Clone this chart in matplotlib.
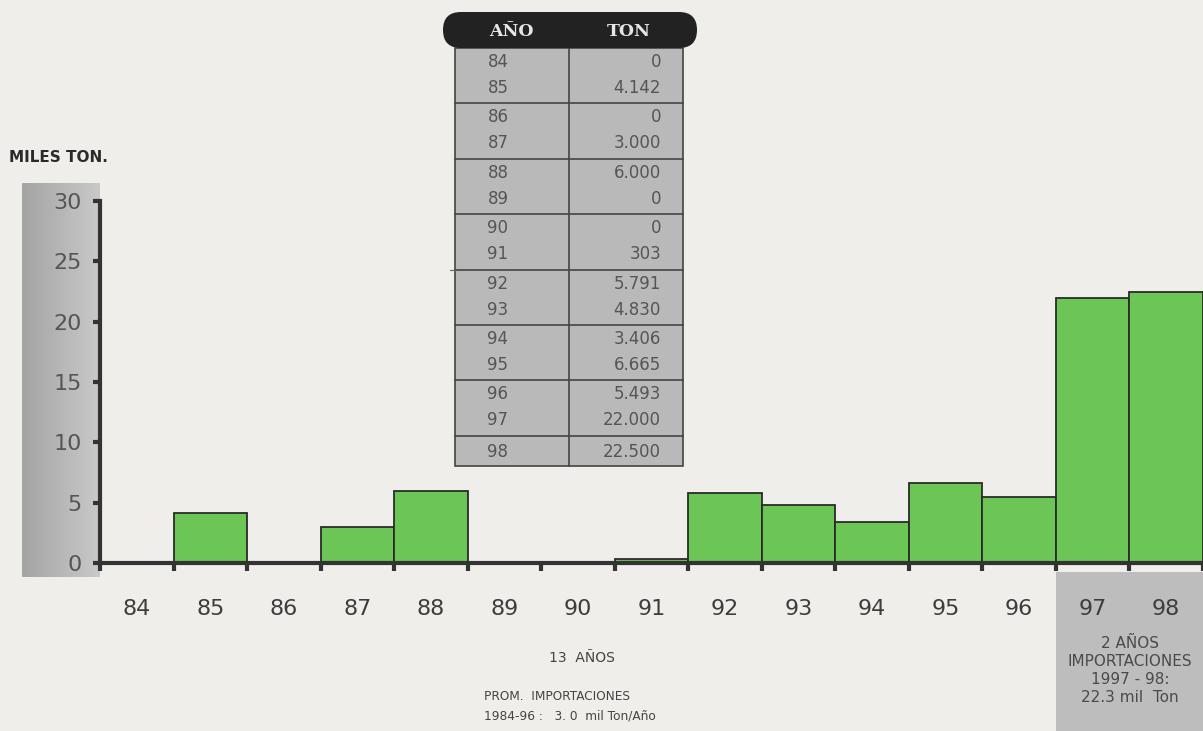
import matplotlib
matplotlib.use('Agg')
import matplotlib.pyplot as plt
from matplotlib.patches import Rectangle, FancyBboxPatch
import numpy as np

# Importaciones anuales (toneladas)
years = ['84', '85', '86', '87', '88', '89', '90', '91', '92', '93', '94', '95', '96', '97', '98']
tons = [0, 4142, 0, 3000, 6000, 0, 0, 303, 5791, 4830, 3406, 6665, 5493, 22000, 22500]
miles_ton = [t / 1000 for t in tons]
y_ticks = [0, 5, 10, 15, 20, 25, 30]

W, H = 1203, 731
BG = '#efeeea'
TXT = '#3d3d3d'

fig = plt.figure(figsize=(W / 100, H / 100), dpi=100, facecolor=BG)

# background layer in pixel coordinates (gradient band, gray box)
bg = fig.add_axes([0, 0, 1, 1], zorder=0)
bg.set_xlim(0, W)
bg.set_ylim(H, 0)
bg.axis('off')
grad = np.linspace(0, 1, 100).reshape(1, -1)
bg.imshow(grad, cmap=matplotlib.colors.LinearSegmentedColormap.from_list('g', ['#a4a4a4', '#c9c9c9']),
          extent=(22, 100, 577, 183), aspect='auto', zorder=1)
bg.add_patch(Rectangle((1056, 572), 147, 159, facecolor='#bdbdbd', edgecolor='none', zorder=1))

# main chart
ax = fig.add_axes([100 / W, 1 - 563 / H, 1 - 100 / W, (563 - 201) / H], zorder=1)
ax.set_facecolor('none')
x = np.arange(len(years))
ax.bar(x, miles_ton, width=1.0, color='#6cc655', edgecolor='#2a2a2a', linewidth=1.3)
ax.set_xlim(-0.5, len(years) - 0.5)
ax.set_ylim(0, 30)

for s in ['top', 'right']:
    ax.spines[s].set_visible(False)
for s in ['left', 'bottom']:
    ax.spines[s].set_linewidth(3)
    ax.spines[s].set_color('#333333')

ax.set_yticks(y_ticks)
ax.set_yticklabels([str(v) for v in y_ticks], fontsize=16, color='#555555')
ax.tick_params(axis='y', length=5, width=3, color='#333333', pad=8)

ax.set_xticks(np.arange(-0.5, len(years)))
ax.set_xticklabels([])
ax.set_xticks(x, minor=True)
ax.set_xticklabels(years, minor=True, fontsize=16, color=TXT)
ax.tick_params(axis='x', which='major', length=6, width=3, color='#333333')
ax.tick_params(axis='x', which='minor', length=0, pad=26)

# overlay layer: table and texts
ov = fig.add_axes([0, 0, 1, 1], zorder=2)
ov.set_xlim(0, W)
ov.set_ylim(H, 0)
ov.axis('off')

ov.text(9, 157, 'MILES TON.', fontsize=11, fontweight='bold', color='#2a2a2a', va='center', ha='left')

# table
tx0, tx1, tmid = 455, 683, 569
top = 48
row_h = 27.7
n_rows = len(years)
bottom = top + row_h * 14 + 30
ov.add_patch(Rectangle((tx0, top), tx1 - tx0, bottom - top, facecolor='#b9b9b9',
                       edgecolor='#444444', linewidth=1.2))
ov.plot([tmid, tmid], [top, bottom], color='#444444', lw=1.2)
for g in range(1, 8):
    yy = top + 2 * row_h * g
    ov.plot([tx0, tx1], [yy, yy], color='#444444', lw=1.2)
ov.plot([450, tx0], [270, 270], color='#666666', lw=0.8)

for i, (yr, t) in enumerate(zip(years, tons)):
    g, r = divmod(i, 2)
    yc = top + 2 * row_h * g + (14 if r == 0 else 40)
    if i == n_rows - 1:
        yc = top + 2 * row_h * g + 16
    ov.text(498, yc, yr, fontsize=12, color='#555555', ha='center', va='center')
    label = f'{t:,}'.replace(',', '.')
    ov.text(661, yc, label, fontsize=12, color='#555555', ha='right', va='center')

ov.add_patch(FancyBboxPatch((443, 12), 254, 36, boxstyle='round,pad=0,rounding_size=18',
                            facecolor='#222222', edgecolor='none', zorder=3))
ov.text(511, 31, 'AÑO', fontsize=12.5, fontweight='bold', family='DejaVu Serif',
        color='#e6e6e6', ha='center', va='center', zorder=4)
ov.text(629, 31, 'TON', fontsize=12.5, fontweight='bold', family='DejaVu Serif',
        color='#e6e6e6', ha='center', va='center', zorder=4)

# notes
ov.text(582, 658, '13  AÑOS', fontsize=10, color='#444444', ha='center', va='center')
ov.text(484, 697, 'PROM.  IMPORTACIONES', fontsize=8.7, color='#444444', ha='left', va='center')
ov.text(484, 716, '1984-96 :   3. 0  mil Ton/Año', fontsize=8.7, color='#444444', ha='left', va='center')

box_lines = ['2 AÑOS', 'IMPORTACIONES', '1997 - 98:', '22.3 mil  Ton']
for k, line in enumerate(box_lines):
    ov.text(1130, 643 + k * 18.3, line, fontsize=11, color='#4a4a4a', ha='center', va='center')

fig.savefig('out.png', dpi=100, facecolor=BG)
